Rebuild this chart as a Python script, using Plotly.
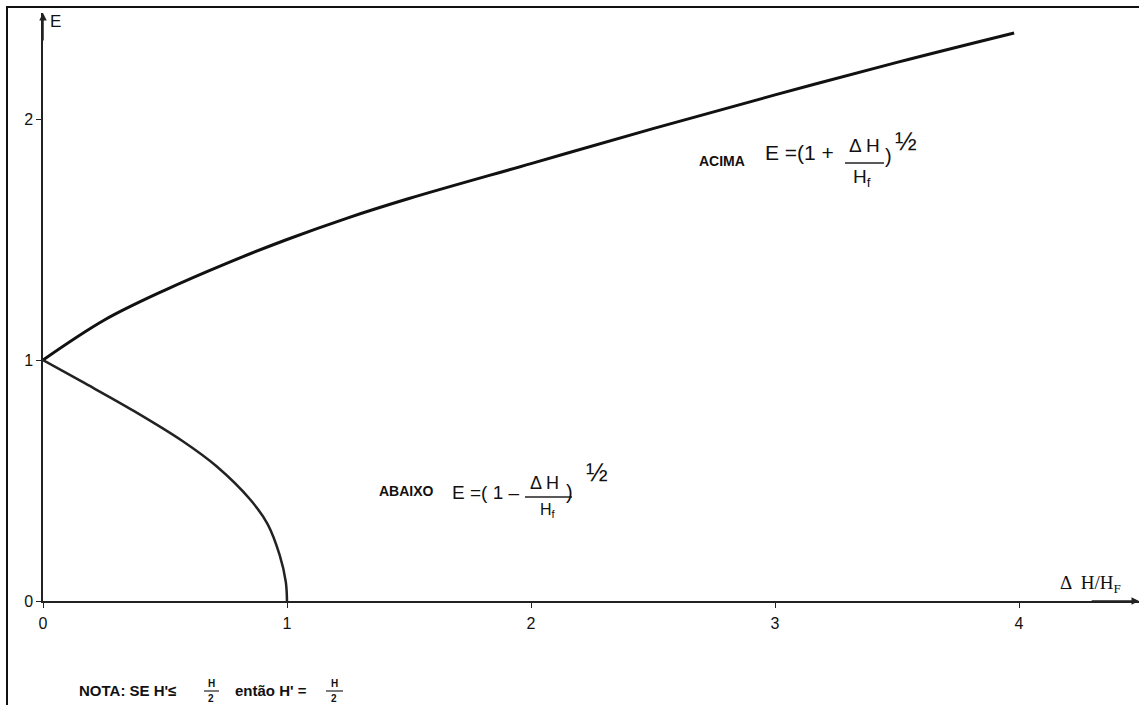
import plotly.graph_objects as go

# curva superior (ACIMA)
acima_x = [0.0, 0.25, 0.5, 0.75, 1.0, 1.25, 1.5, 2.0, 2.5, 3.0, 3.5, 3.98]
acima_e = [1.00, 1.165, 1.29, 1.40, 1.50, 1.59, 1.67, 1.815, 1.96, 2.10, 2.235, 2.357]

# curva inferior (ABAIXO)
abaixo_x = [0.0, 0.16, 0.37, 0.57, 0.71, 0.85, 0.92, 0.97, 0.995, 1.0]
abaixo_e = [1.00, 0.91, 0.79, 0.665, 0.56, 0.42, 0.32, 0.19, 0.08, 0.0]

x_ticks = [0, 1, 2, 3, 4]
y_ticks = [0, 1, 2]

W, H = 1139, 705
L, R, T, B = 43, 0, 13, 104
XMAX = (W - L - R) / 244
YMAX = (H - T - B) / 241

SANS = "Liberation Sans, Arial"
SERIF = "Liberation Serif, Times New Roman"


def pp(xp, yp):
    # pixel -> paper
    return (xp - L) / (W - L - R), (H - B - yp) / (H - T - B)


fig = go.Figure()
fig.add_trace(go.Scatter(x=acima_x, y=acima_e, mode='lines', line_shape='spline',
                         line=dict(color='#111', width=3, smoothing=1.0), name='ACIMA', cliponaxis=False))
fig.add_trace(go.Scatter(x=abaixo_x, y=abaixo_e, mode='lines', line_shape='spline',
                         line=dict(color='#222', width=2.5, smoothing=1.0), name='ABAIXO', cliponaxis=False))

annots = []


def txt(xp, yp, text, size, family=SANS, xanchor='center'):
    px, py = pp(xp, yp)
    annots.append(dict(x=px, y=py, xref='paper', yref='paper', text=text, showarrow=False,
                       xanchor=xanchor, yanchor='middle',
                       font=dict(family=family, size=size, color='#111')))


shapes = []


def bar(x0, x1, yp, w=1.5):
    a, b = pp(x0, yp)
    c, _ = pp(x1, yp)
    shapes.append(dict(type='line', xref='paper', yref='paper', x0=a, x1=c, y0=b, y1=b,
                       line=dict(color='#222', width=w)))


# ACIMA  E = (1 + dH/Hf)^1/2
txt(697, 161, "<b>ACIMA</b>", 14, xanchor='left')
txt(763, 152, "E =(1 +", 21, xanchor='left')
txt(864, 146, "Δ H", 19)
bar(845, 884, 163)
txt(862, 178, "H<sub>f</sub>", 19)
txt(888, 156, ")", 20)
txt(906, 141, "½", 26)

# ABAIXO  E = (1 - dH/Hf)^1/2
txt(377, 491, "<b>ABAIXO</b>", 14, xanchor='left')
txt(450, 492, "E =( 1 –", 19, xanchor='left')
txt(544, 483, "Δ H", 18)
bar(525, 572, 497)
txt(548, 511, "H<sub>f</sub>", 16)
txt(569, 492, ")", 20)
txt(597, 472, "½", 26)

# nota de rodape
txt(77, 690, "<b>NOTA: SE H'≤</b>", 15, xanchor='left')
txt(211, 684, "<b>H</b>", 10)
bar(204, 219, 691, 1.2)
txt(211, 698, "<b>2</b>", 10)
txt(233, 690, "<b>então H' =</b>", 15, xanchor='left')
txt(334, 684, "<b>H</b>", 10)
bar(326, 343, 691, 1.2)
txt(334, 698, "<b>2</b>", 10)

# rotulos dos eixos
txt(48, 22, "E", 17, xanchor='left')
txt(1058, 584, "Δ  H/H<sub>F</sub>", 19, family=SERIF, xanchor='left')

# setas dos eixos
annots.append(dict(x=0, y=YMAX, ax=0, ay=YMAX - 0.12, xref='x', yref='y', axref='x', ayref='y',
                   text='', showarrow=True, arrowhead=2, arrowsize=1, arrowwidth=1.5,
                   arrowcolor='#222'))
annots.append(dict(x=XMAX, y=0, ax=XMAX - 0.2, ay=0, xref='x', yref='y', axref='x', ayref='y',
                   text='', showarrow=True, arrowhead=2, arrowsize=1, arrowwidth=1.5,
                   arrowcolor='#222'))

# moldura
fx0, fy0 = pp(7, 7)
fx1, fy1 = pp(1160, 730)
shapes.append(dict(type='rect', xref='paper', yref='paper', x0=fx0, y0=fy1, x1=fx1, y1=fy0,
                   line=dict(color='#111', width=2)))

fig.update_layout(
    width=W, height=H,
    margin=dict(l=L, r=R, t=T, b=B, pad=0),
    paper_bgcolor='white', plot_bgcolor='white',
    showlegend=False,
    annotations=annots,
    shapes=shapes,
    font=dict(family=SANS, color='#111'),
)
fig.update_xaxes(range=[0, XMAX], showgrid=False, zeroline=False, showline=True,
                 linecolor='#222', linewidth=1.5, ticks='outside', ticklen=5, tickcolor='#222',
                 tickvals=x_ticks, ticktext=[str(v) for v in x_ticks],
                 tickfont=dict(family=SANS, size=16, color='#111'), ticklabelstandoff=2)
fig.update_yaxes(range=[0, YMAX], showgrid=False, zeroline=False, showline=True,
                 linecolor='#222', linewidth=1.5, ticks='outside', ticklen=5, tickcolor='#222',
                 tickvals=y_ticks, ticktext=[str(v) for v in y_ticks],
                 tickfont=dict(family=SANS, size=16, color='#111'))

fig.write_html("out.html", config={'displayModeBar': False},
               post_script="document.body.style.margin='0';")
